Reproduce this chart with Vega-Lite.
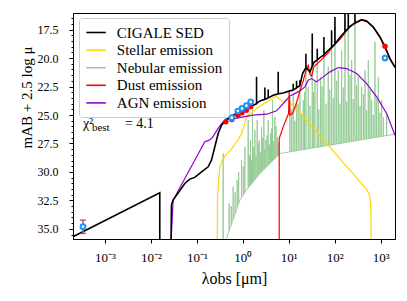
{
  "$schema": "https://vega.github.io/schema/vega-lite/v6.json",
  "width": 322,
  "height": 226,
  "autosize": {"type": "none"},
  "padding": {"left": 73, "top": 13, "right": 12, "bottom": 62},
  "background": "white",
  "config": {
    "view": {"stroke": "black", "strokeWidth": 1},
    "font": "Liberation Serif",
    "axis": {"grid": false, "domainColor": "black", "tickColor": "black", "labelColor": "black", "titleColor": "black", "labelFont": "Liberation Serif", "titleFont": "Liberation Serif", "titleFontWeight": "normal", "labelFontSize": 12, "titleFontSize": 16}
  },
  "datasets": {
    "curves": [
      {"s": "Nebular emission", "w": 0.3728, "m": 38.5},
      {"s": "Nebular emission", "w": 0.3728, "m": 28.38},
      {"s": "Nebular emission", "w": 0.3728, "m": 38.5},
      {"s": "Nebular emission", "w": 0.4122, "m": 38.5},
      {"s": "Nebular emission", "w": 0.4406, "m": 35.83},
      {"s": "Nebular emission", "w": 0.5039, "m": 35.16},
      {"s": "Nebular emission", "w": 0.5039, "m": 32.76},
      {"s": "Nebular emission", "w": 0.5039, "m": 35.16},
      {"s": "Nebular emission", "w": 0.56, "m": 34.65},
      {"s": "Nebular emission", "w": 0.56, "m": 33.0},
      {"s": "Nebular emission", "w": 0.56, "m": 34.65},
      {"s": "Nebular emission", "w": 0.6155, "m": 34.17},
      {"s": "Nebular emission", "w": 0.6155, "m": 31.3},
      {"s": "Nebular emission", "w": 0.6155, "m": 34.17},
      {"s": "Nebular emission", "w": 0.68, "m": 33.65},
      {"s": "Nebular emission", "w": 0.68, "m": 31.8},
      {"s": "Nebular emission", "w": 0.68, "m": 33.65},
      {"s": "Nebular emission", "w": 0.7531, "m": 33.15},
      {"s": "Nebular emission", "w": 0.7531, "m": 30.72},
      {"s": "Nebular emission", "w": 0.7531, "m": 33.15},
      {"s": "Nebular emission", "w": 0.81, "m": 32.75},
      {"s": "Nebular emission", "w": 0.81, "m": 30.0},
      {"s": "Nebular emission", "w": 0.81, "m": 32.75},
      {"s": "Nebular emission", "w": 0.8603, "m": 32.47},
      {"s": "Nebular emission", "w": 0.9354, "m": 32.25},
      {"s": "Nebular emission", "w": 0.9354, "m": 28.96},
      {"s": "Nebular emission", "w": 0.9354, "m": 32.25},
      {"s": "Nebular emission", "w": 1.02, "m": 32.02},
      {"s": "Nebular emission", "w": 1.02, "m": 29.5},
      {"s": "Nebular emission", "w": 1.02, "m": 32.02},
      {"s": "Nebular emission", "w": 1.105, "m": 31.81},
      {"s": "Nebular emission", "w": 1.105, "m": 27.79},
      {"s": "Nebular emission", "w": 1.105, "m": 31.81},
      {"s": "Nebular emission", "w": 1.202, "m": 31.59},
      {"s": "Nebular emission", "w": 1.307, "m": 31.41},
      {"s": "Nebular emission", "w": 1.307, "m": 25.45},
      {"s": "Nebular emission", "w": 1.307, "m": 31.41},
      {"s": "Nebular emission", "w": 1.39, "m": 31.28},
      {"s": "Nebular emission", "w": 1.39, "m": 28.5},
      {"s": "Nebular emission", "w": 1.39, "m": 31.28},
      {"s": "Nebular emission", "w": 1.469, "m": 31.15},
      {"s": "Nebular emission", "w": 1.469, "m": 27.21},
      {"s": "Nebular emission", "w": 1.469, "m": 31.15},
      {"s": "Nebular emission", "w": 1.55, "m": 31.05},
      {"s": "Nebular emission", "w": 1.55, "m": 29.0},
      {"s": "Nebular emission", "w": 1.55, "m": 31.05},
      {"s": "Nebular emission", "w": 1.624, "m": 30.94},
      {"s": "Nebular emission", "w": 1.624, "m": 24.58},
      {"s": "Nebular emission", "w": 1.624, "m": 30.94},
      {"s": "Nebular emission", "w": 1.72, "m": 30.8},
      {"s": "Nebular emission", "w": 1.72, "m": 27.8},
      {"s": "Nebular emission", "w": 1.72, "m": 30.8},
      {"s": "Nebular emission", "w": 1.826, "m": 30.68},
      {"s": "Nebular emission", "w": 1.826, "m": 26.33},
      {"s": "Nebular emission", "w": 1.826, "m": 30.68},
      {"s": "Nebular emission", "w": 1.93, "m": 30.55},
      {"s": "Nebular emission", "w": 1.93, "m": 28.6},
      {"s": "Nebular emission", "w": 1.93, "m": 30.55},
      {"s": "Nebular emission", "w": 2.052, "m": 30.42},
      {"s": "Nebular emission", "w": 2.052, "m": 25.45},
      {"s": "Nebular emission", "w": 2.052, "m": 30.42},
      {"s": "Nebular emission", "w": 2.16, "m": 30.3},
      {"s": "Nebular emission", "w": 2.16, "m": 27.5},
      {"s": "Nebular emission", "w": 2.16, "m": 30.3},
      {"s": "Nebular emission", "w": 2.269, "m": 30.2},
      {"s": "Nebular emission", "w": 2.269, "m": 27.21},
      {"s": "Nebular emission", "w": 2.269, "m": 30.2},
      {"s": "Nebular emission", "w": 2.4, "m": 30.1},
      {"s": "Nebular emission", "w": 2.4, "m": 28.3},
      {"s": "Nebular emission", "w": 2.4, "m": 30.1},
      {"s": "Nebular emission", "w": 2.551, "m": 29.99},
      {"s": "Nebular emission", "w": 2.551, "m": 26.04},
      {"s": "Nebular emission", "w": 2.551, "m": 29.99},
      {"s": "Nebular emission", "w": 2.7, "m": 29.88},
      {"s": "Nebular emission", "w": 2.7, "m": 27.0},
      {"s": "Nebular emission", "w": 2.7, "m": 29.88},
      {"s": "Nebular emission", "w": 2.868, "m": 29.78},
      {"s": "Nebular emission", "w": 2.868, "m": 24.58},
      {"s": "Nebular emission", "w": 2.868, "m": 29.78},
      {"s": "Nebular emission", "w": 3.02, "m": 29.7},
      {"s": "Nebular emission", "w": 3.02, "m": 28.0},
      {"s": "Nebular emission", "w": 3.02, "m": 29.7},
      {"s": "Nebular emission", "w": 3.171, "m": 29.61},
      {"s": "Nebular emission", "w": 3.171, "m": 27.21},
      {"s": "Nebular emission", "w": 3.171, "m": 29.61},
      {"s": "Nebular emission", "w": 3.37, "m": 29.5},
      {"s": "Nebular emission", "w": 3.37, "m": 26.8},
      {"s": "Nebular emission", "w": 3.37, "m": 29.5},
      {"s": "Nebular emission", "w": 3.565, "m": 29.4},
      {"s": "Nebular emission", "w": 3.565, "m": 25.45},
      {"s": "Nebular emission", "w": 3.565, "m": 29.4},
      {"s": "Nebular emission", "w": 3.78, "m": 29.3},
      {"s": "Nebular emission", "w": 3.78, "m": 27.6},
      {"s": "Nebular emission", "w": 3.78, "m": 29.3},
      {"s": "Nebular emission", "w": 4.007, "m": 29.2},
      {"s": "Nebular emission", "w": 4.007, "m": 26.62},
      {"s": "Nebular emission", "w": 4.007, "m": 29.2},
      {"s": "Nebular emission", "w": 4.22, "m": 29.1},
      {"s": "Nebular emission", "w": 4.22, "m": 26.2},
      {"s": "Nebular emission", "w": 4.22, "m": 29.1},
      {"s": "Nebular emission", "w": 4.43, "m": 29.02},
      {"s": "Nebular emission", "w": 4.43, "m": 23.7},
      {"s": "Nebular emission", "w": 4.43, "m": 29.02},
      {"s": "Nebular emission", "w": 4.7, "m": 28.92},
      {"s": "Nebular emission", "w": 4.7, "m": 27.3},
      {"s": "Nebular emission", "w": 4.7, "m": 28.92},
      {"s": "Nebular emission", "w": 4.981, "m": 28.82},
      {"s": "Nebular emission", "w": 4.981, "m": 25.16},
      {"s": "Nebular emission", "w": 4.981, "m": 28.82},
      {"s": "Nebular emission", "w": 5.28, "m": 28.72},
      {"s": "Nebular emission", "w": 5.28, "m": 26.0},
      {"s": "Nebular emission", "w": 5.28, "m": 28.72},
      {"s": "Nebular emission", "w": 5.598, "m": 28.61},
      {"s": "Nebular emission", "w": 5.598, "m": 26.92},
      {"s": "Nebular emission", "w": 5.598, "m": 28.61},
      {"s": "Nebular emission", "w": 5.95, "m": 28.5},
      {"s": "Nebular emission", "w": 5.95, "m": 27.4},
      {"s": "Nebular emission", "w": 5.95, "m": 28.5},
      {"s": "Nebular emission", "w": 6.398, "m": 28.38},
      {"s": "Nebular emission", "w": 10.57, "m": 28.23},
      {"s": "Nebular emission", "w": 10.57, "m": 23.41},
      {"s": "Nebular emission", "w": 10.57, "m": 28.23},
      {"s": "Nebular emission", "w": 11.5, "m": 28.21},
      {"s": "Nebular emission", "w": 11.5, "m": 24.5},
      {"s": "Nebular emission", "w": 11.5, "m": 28.21},
      {"s": "Nebular emission", "w": 12.49, "m": 28.18},
      {"s": "Nebular emission", "w": 12.49, "m": 23.11},
      {"s": "Nebular emission", "w": 12.49, "m": 28.18},
      {"s": "Nebular emission", "w": 13.6, "m": 28.16},
      {"s": "Nebular emission", "w": 13.6, "m": 25.5},
      {"s": "Nebular emission", "w": 13.6, "m": 28.16},
      {"s": "Nebular emission", "w": 14.77, "m": 28.13},
      {"s": "Nebular emission", "w": 14.77, "m": 23.99},
      {"s": "Nebular emission", "w": 14.77, "m": 28.13},
      {"s": "Nebular emission", "w": 16.0, "m": 28.11},
      {"s": "Nebular emission", "w": 16.0, "m": 24.0},
      {"s": "Nebular emission", "w": 16.0, "m": 28.11},
      {"s": "Nebular emission", "w": 17.46, "m": 28.08},
      {"s": "Nebular emission", "w": 17.46, "m": 22.24},
      {"s": "Nebular emission", "w": 17.46, "m": 28.08},
      {"s": "Nebular emission", "w": 19.0, "m": 28.06},
      {"s": "Nebular emission", "w": 19.0, "m": 25.0},
      {"s": "Nebular emission", "w": 19.0, "m": 28.06},
      {"s": "Nebular emission", "w": 20.63, "m": 28.04},
      {"s": "Nebular emission", "w": 20.63, "m": 23.7},
      {"s": "Nebular emission", "w": 20.63, "m": 28.04},
      {"s": "Nebular emission", "w": 22.0, "m": 28.02},
      {"s": "Nebular emission", "w": 22.0, "m": 23.0},
      {"s": "Nebular emission", "w": 22.0, "m": 28.02},
      {"s": "Nebular emission", "w": 23.58, "m": 28.0},
      {"s": "Nebular emission", "w": 23.58, "m": 20.77},
      {"s": "Nebular emission", "w": 23.58, "m": 28.0},
      {"s": "Nebular emission", "w": 26.51, "m": 27.96},
      {"s": "Nebular emission", "w": 26.51, "m": 22.53},
      {"s": "Nebular emission", "w": 26.51, "m": 27.96},
      {"s": "Nebular emission", "w": 29.0, "m": 27.93},
      {"s": "Nebular emission", "w": 29.0, "m": 24.2},
      {"s": "Nebular emission", "w": 29.0, "m": 27.93},
      {"s": "Nebular emission", "w": 32.4, "m": 27.9},
      {"s": "Nebular emission", "w": 32.4, "m": 19.31},
      {"s": "Nebular emission", "w": 32.4, "m": 27.9},
      {"s": "Nebular emission", "w": 34.5, "m": 27.88},
      {"s": "Nebular emission", "w": 34.5, "m": 23.0},
      {"s": "Nebular emission", "w": 34.5, "m": 27.88},
      {"s": "Nebular emission", "w": 37.03, "m": 27.86},
      {"s": "Nebular emission", "w": 37.03, "m": 21.94},
      {"s": "Nebular emission", "w": 37.03, "m": 27.86},
      {"s": "Nebular emission", "w": 41.63, "m": 27.83},
      {"s": "Nebular emission", "w": 41.63, "m": 20.19},
      {"s": "Nebular emission", "w": 41.63, "m": 27.83},
      {"s": "Nebular emission", "w": 45.0, "m": 27.81},
      {"s": "Nebular emission", "w": 45.0, "m": 24.5},
      {"s": "Nebular emission", "w": 45.0, "m": 27.81},
      {"s": "Nebular emission", "w": 49.22, "m": 27.78},
      {"s": "Nebular emission", "w": 49.22, "m": 21.65},
      {"s": "Nebular emission", "w": 49.22, "m": 27.78},
      {"s": "Nebular emission", "w": 53.0, "m": 27.76},
      {"s": "Nebular emission", "w": 53.0, "m": 22.5},
      {"s": "Nebular emission", "w": 53.0, "m": 27.76},
      {"s": "Nebular emission", "w": 58.18, "m": 27.73},
      {"s": "Nebular emission", "w": 58.18, "m": 19.02},
      {"s": "Nebular emission", "w": 58.18, "m": 27.73},
      {"s": "Nebular emission", "w": 65.0, "m": 27.7},
      {"s": "Nebular emission", "w": 65.0, "m": 24.0},
      {"s": "Nebular emission", "w": 65.0, "m": 27.7},
      {"s": "Nebular emission", "w": 72.29, "m": 27.67},
      {"s": "Nebular emission", "w": 72.29, "m": 20.77},
      {"s": "Nebular emission", "w": 72.29, "m": 27.67},
      {"s": "Nebular emission", "w": 78.0, "m": 27.64},
      {"s": "Nebular emission", "w": 78.0, "m": 22.8},
      {"s": "Nebular emission", "w": 78.0, "m": 27.64},
      {"s": "Nebular emission", "w": 85.45, "m": 27.62},
      {"s": "Nebular emission", "w": 85.45, "m": 18.44},
      {"s": "Nebular emission", "w": 85.45, "m": 27.62},
      {"s": "Nebular emission", "w": 93.0, "m": 27.59},
      {"s": "Nebular emission", "w": 93.0, "m": 23.5},
      {"s": "Nebular emission", "w": 93.0, "m": 27.59},
      {"s": "Nebular emission", "w": 101.0, "m": 27.57},
      {"s": "Nebular emission", "w": 101.0, "m": 17.27},
      {"s": "Nebular emission", "w": 101.0, "m": 27.57},
      {"s": "Nebular emission", "w": 110.0, "m": 27.54},
      {"s": "Nebular emission", "w": 110.0, "m": 22.0},
      {"s": "Nebular emission", "w": 110.0, "m": 27.54},
      {"s": "Nebular emission", "w": 119.4, "m": 27.52},
      {"s": "Nebular emission", "w": 119.4, "m": 21.07},
      {"s": "Nebular emission", "w": 119.4, "m": 27.52},
      {"s": "Nebular emission", "w": 130.0, "m": 27.49},
      {"s": "Nebular emission", "w": 130.0, "m": 24.0},
      {"s": "Nebular emission", "w": 130.0, "m": 27.49},
      {"s": "Nebular emission", "w": 141.1, "m": 27.47},
      {"s": "Nebular emission", "w": 141.1, "m": 19.31},
      {"s": "Nebular emission", "w": 141.1, "m": 27.47},
      {"s": "Nebular emission", "w": 153.0, "m": 27.44},
      {"s": "Nebular emission", "w": 153.0, "m": 22.6},
      {"s": "Nebular emission", "w": 153.0, "m": 27.44},
      {"s": "Nebular emission", "w": 166.9, "m": 27.42},
      {"s": "Nebular emission", "w": 166.9, "m": 16.68},
      {"s": "Nebular emission", "w": 166.9, "m": 27.42},
      {"s": "Nebular emission", "w": 182.0, "m": 27.39},
      {"s": "Nebular emission", "w": 182.0, "m": 23.8},
      {"s": "Nebular emission", "w": 182.0, "m": 27.39},
      {"s": "Nebular emission", "w": 197.2, "m": 27.37},
      {"s": "Nebular emission", "w": 197.2, "m": 16.68},
      {"s": "Nebular emission", "w": 197.2, "m": 27.37},
      {"s": "Nebular emission", "w": 214.0, "m": 27.35},
      {"s": "Nebular emission", "w": 214.0, "m": 21.5},
      {"s": "Nebular emission", "w": 214.0, "m": 27.35},
      {"s": "Nebular emission", "w": 233.1, "m": 27.32},
      {"s": "Nebular emission", "w": 233.1, "m": 20.19},
      {"s": "Nebular emission", "w": 233.1, "m": 27.32},
      {"s": "Nebular emission", "w": 253.0, "m": 27.3},
      {"s": "Nebular emission", "w": 253.0, "m": 23.6},
      {"s": "Nebular emission", "w": 253.0, "m": 27.3},
      {"s": "Nebular emission", "w": 275.5, "m": 27.27},
      {"s": "Nebular emission", "w": 275.5, "m": 16.68},
      {"s": "Nebular emission", "w": 275.5, "m": 27.27},
      {"s": "Nebular emission", "w": 300.0, "m": 27.25},
      {"s": "Nebular emission", "w": 300.0, "m": 22.4},
      {"s": "Nebular emission", "w": 300.0, "m": 27.25},
      {"s": "Nebular emission", "w": 325.6, "m": 27.22},
      {"s": "Nebular emission", "w": 325.6, "m": 21.65},
      {"s": "Nebular emission", "w": 325.6, "m": 27.22},
      {"s": "Nebular emission", "w": 355.0, "m": 27.2},
      {"s": "Nebular emission", "w": 355.0, "m": 24.2},
      {"s": "Nebular emission", "w": 355.0, "m": 27.2},
      {"s": "Nebular emission", "w": 384.8, "m": 27.17},
      {"s": "Nebular emission", "w": 384.8, "m": 22.53},
      {"s": "Nebular emission", "w": 384.8, "m": 27.17},
      {"s": "Nebular emission", "w": 420.0, "m": 27.15},
      {"s": "Nebular emission", "w": 420.0, "m": 23.2},
      {"s": "Nebular emission", "w": 420.0, "m": 27.15},
      {"s": "Nebular emission", "w": 455.0, "m": 27.12},
      {"s": "Nebular emission", "w": 455.0, "m": 21.07},
      {"s": "Nebular emission", "w": 455.0, "m": 27.12},
      {"s": "Nebular emission", "w": 495.0, "m": 27.1},
      {"s": "Nebular emission", "w": 495.0, "m": 24.6},
      {"s": "Nebular emission", "w": 495.0, "m": 27.1},
      {"s": "Nebular emission", "w": 537.8, "m": 27.07},
      {"s": "Nebular emission", "w": 537.8, "m": 20.19},
      {"s": "Nebular emission", "w": 537.8, "m": 27.07},
      {"s": "Nebular emission", "w": 585.0, "m": 27.05},
      {"s": "Nebular emission", "w": 585.0, "m": 22.8},
      {"s": "Nebular emission", "w": 585.0, "m": 27.05},
      {"s": "Nebular emission", "w": 635.7, "m": 27.02},
      {"s": "Nebular emission", "w": 635.7, "m": 23.7},
      {"s": "Nebular emission", "w": 635.7, "m": 27.02},
      {"s": "Nebular emission", "w": 690.0, "m": 27.0},
      {"s": "Nebular emission", "w": 690.0, "m": 25.0},
      {"s": "Nebular emission", "w": 690.0, "m": 27.0},
      {"s": "Nebular emission", "w": 751.4, "m": 26.98},
      {"s": "Nebular emission", "w": 751.4, "m": 18.58},
      {"s": "Nebular emission", "w": 751.4, "m": 26.98},
      {"s": "Nebular emission", "w": 815.0, "m": 26.95},
      {"s": "Nebular emission", "w": 815.0, "m": 23.6},
      {"s": "Nebular emission", "w": 815.0, "m": 26.95},
      {"s": "Nebular emission", "w": 888.1, "m": 26.93},
      {"s": "Nebular emission", "w": 888.1, "m": 21.65},
      {"s": "Nebular emission", "w": 888.1, "m": 26.93},
      {"s": "Nebular emission", "w": 965.0, "m": 26.9},
      {"s": "Nebular emission", "w": 965.0, "m": 24.8},
      {"s": "Nebular emission", "w": 965.0, "m": 26.9},
      {"s": "Nebular emission", "w": 1050, "m": 26.88},
      {"s": "Nebular emission", "w": 1050, "m": 23.7},
      {"s": "Nebular emission", "w": 1050, "m": 26.88},
      {"s": "Nebular emission", "w": 1150, "m": 26.85},
      {"s": "Nebular emission", "w": 1150, "m": 25.2},
      {"s": "Nebular emission", "w": 1150, "m": 26.85},
      {"s": "Nebular emission", "w": 1349, "m": 26.8},
      {"s": "Nebular emission", "w": 1349, "m": 24.87},
      {"s": "Nebular emission", "w": 1349, "m": 26.8},
      {"s": "Nebular emission", "w": 2049, "m": 26.68},

      {"s": "Stellar emission", "w": 0.276, "m": 38.5},
      {"s": "Stellar emission", "w": 0.2806, "m": 32.47},
      {"s": "Stellar emission", "w": 0.2904, "m": 31.3},
      {"s": "Stellar emission", "w": 0.3155, "m": 29.55},
      {"s": "Stellar emission", "w": 0.3606, "m": 28.9},
      {"s": "Stellar emission", "w": 0.4406, "m": 28.44},
      {"s": "Stellar emission", "w": 0.5662, "m": 28.0},
      {"s": "Stellar emission", "w": 0.7278, "m": 27.35},
      {"s": "Stellar emission", "w": 0.9354, "m": 26.68},
      {"s": "Stellar emission", "w": 1.202, "m": 25.16},
      {"s": "Stellar emission", "w": 1.986, "m": 24.43},
      {"s": "Stellar emission", "w": 3.279, "m": 23.85},
      {"s": "Stellar emission", "w": 5.414, "m": 23.35},
      {"s": "Stellar emission", "w": 6.398, "m": 23.61},
      {"s": "Stellar emission", "w": 7.564, "m": 23.85},
      {"s": "Stellar emission", "w": 9.245, "m": 23.7},
      {"s": "Stellar emission", "w": 17.46, "m": 24.78},
      {"s": "Stellar emission", "w": 92.91, "m": 28.17},
      {"s": "Stellar emission", "w": 494.7, "m": 31.54},
      {"s": "Stellar emission", "w": 556.0, "m": 31.89},
      {"s": "Stellar emission", "w": 594.4, "m": 32.47},
      {"s": "Stellar emission", "w": 614.6, "m": 33.64},
      {"s": "Stellar emission", "w": 625.1, "m": 38.5},

      {"s": "AGN emission", "w": 0.02698, "m": 38.5},
      {"s": "AGN emission", "w": 0.02793, "m": 35.39},
      {"s": "AGN emission", "w": 0.03034, "m": 32.47},
      {"s": "AGN emission", "w": 0.1486, "m": 27.35},
      {"s": "AGN emission", "w": 0.1847, "m": 27.21},
      {"s": "AGN emission", "w": 0.2183, "m": 26.97},
      {"s": "AGN emission", "w": 0.2904, "m": 26.18},
      {"s": "AGN emission", "w": 0.3733, "m": 25.6},
      {"s": "AGN emission", "w": 0.4791, "m": 25.39},
      {"s": "AGN emission", "w": 0.6155, "m": 25.34},
      {"s": "AGN emission", "w": 1.017, "m": 25.16},
      {"s": "AGN emission", "w": 1.68, "m": 25.01},
      {"s": "AGN emission", "w": 3.279, "m": 24.93},
      {"s": "AGN emission", "w": 5.414, "m": 24.63},
      {"s": "AGN emission", "w": 7.564, "m": 23.99},
      {"s": "AGN emission", "w": 10.57, "m": 23.32},
      {"s": "AGN emission", "w": 17.46, "m": 22.88},
      {"s": "AGN emission", "w": 22.43, "m": 22.53},
      {"s": "AGN emission", "w": 26.51, "m": 21.94},
      {"s": "AGN emission", "w": 31.33, "m": 21.8},
      {"s": "AGN emission", "w": 40.26, "m": 22.09},
      {"s": "AGN emission", "w": 56.26, "m": 21.65},
      {"s": "AGN emission", "w": 78.6, "m": 21.21},
      {"s": "AGN emission", "w": 119.4, "m": 20.83},
      {"s": "AGN emission", "w": 181.4, "m": 20.92},
      {"s": "AGN emission", "w": 299.5, "m": 21.36},
      {"s": "AGN emission", "w": 494.7, "m": 22.24},
      {"s": "AGN emission", "w": 816.9, "m": 23.41},
      {"s": "AGN emission", "w": 1349, "m": 24.87},
      {"s": "AGN emission", "w": 2049, "m": 26.77},

      {"s": "Dust emission", "w": 6.188, "m": 38.5},
      {"s": "Dust emission", "w": 6.188, "m": 27.06},
      {"s": "Dust emission", "w": 7.564, "m": 26.04},
      {"s": "Dust emission", "w": 9.245, "m": 25.16},
      {"s": "Dust emission", "w": 9.884, "m": 24.87},
      {"s": "Dust emission", "w": 10.22, "m": 22.9},
      {"s": "Dust emission", "w": 10.57, "m": 25.01},
      {"s": "Dust emission", "w": 12.08, "m": 24.87},
      {"s": "Dust emission", "w": 13.59, "m": 24.34},
      {"s": "Dust emission", "w": 15.27, "m": 23.7},
      {"s": "Dust emission", "w": 17.46, "m": 22.88},
      {"s": "Dust emission", "w": 20.63, "m": 22.0},
      {"s": "Dust emission", "w": 23.58, "m": 21.13},
      {"s": "Dust emission", "w": 26.51, "m": 20.63},
      {"s": "Dust emission", "w": 28.82, "m": 21.42},
      {"s": "Dust emission", "w": 31.33, "m": 21.59},
      {"s": "Dust emission", "w": 35.23, "m": 20.77},
      {"s": "Dust emission", "w": 40.26, "m": 20.54},
      {"s": "Dust emission", "w": 51.75, "m": 20.13},
      {"s": "Dust emission", "w": 72.29, "m": 19.52},
      {"s": "Dust emission", "w": 92.91, "m": 18.93},
      {"s": "Dust emission", "w": 129.8, "m": 18.35},
      {"s": "Dust emission", "w": 181.4, "m": 17.62},
      {"s": "Dust emission", "w": 214.4, "m": 17.27},
      {"s": "Dust emission", "w": 253.4, "m": 17.03},
      {"s": "Dust emission", "w": 384.8, "m": 16.68},
      {"s": "Dust emission", "w": 494.7, "m": 16.8},
      {"s": "Dust emission", "w": 691.1, "m": 17.32},
      {"s": "Dust emission", "w": 965.4, "m": 18.2},
      {"s": "Dust emission", "w": 1241, "m": 19.08},
      {"s": "Dust emission", "w": 1594, "m": 20.1},
      {"s": "Dust emission", "w": 2049, "m": 20.86},

      {"s": "CIGALE SED", "w": 0.000201, "m": 35.69},
      {"s": "CIGALE SED", "w": 0.01556, "m": 31.83},
      {"s": "CIGALE SED", "w": 0.01556, "m": 38.5},
      {"s": "CIGALE SED", "w": 0.02698, "m": 38.5},
      {"s": "CIGALE SED", "w": 0.02793, "m": 32.91},
      {"s": "CIGALE SED", "w": 0.03034, "m": 32.47},
      {"s": "CIGALE SED", "w": 0.05445, "m": 31.01},
      {"s": "CIGALE SED", "w": 0.07, "m": 30.63},
      {"s": "CIGALE SED", "w": 0.0899, "m": 30.48},
      {"s": "CIGALE SED", "w": 0.1259, "m": 29.99},
      {"s": "CIGALE SED", "w": 0.1758, "m": 29.55},
      {"s": "CIGALE SED", "w": 0.2075, "m": 28.96},
      {"s": "CIGALE SED", "w": 0.2455, "m": 27.79},
      {"s": "CIGALE SED", "w": 0.2904, "m": 26.62},
      {"s": "CIGALE SED", "w": 0.3429, "m": 25.89},
      {"s": "CIGALE SED", "w": 0.4406, "m": 25.39},
      {"s": "CIGALE SED", "w": 0.6155, "m": 25.01},
      {"s": "CIGALE SED", "w": 0.8603, "m": 24.72},
      {"s": "CIGALE SED", "w": 1.202, "m": 24.43},
      {"s": "CIGALE SED", "w": 1.68, "m": 24.14},
      {"s": "CIGALE SED", "w": 1.986, "m": 24.0},
      {"s": "CIGALE SED", "w": 1.986, "m": 21.65},
      {"s": "CIGALE SED", "w": 1.986, "m": 24.0},
      {"s": "CIGALE SED", "w": 2.346, "m": 23.76},
      {"s": "CIGALE SED", "w": 3.015, "m": 23.62},
      {"s": "CIGALE SED", "w": 3.015, "m": 22.59},
      {"s": "CIGALE SED", "w": 3.015, "m": 23.62},
      {"s": "CIGALE SED", "w": 3.565, "m": 23.5},
      {"s": "CIGALE SED", "w": 3.565, "m": 22.76},
      {"s": "CIGALE SED", "w": 3.565, "m": 23.5},
      {"s": "CIGALE SED", "w": 4.58, "m": 23.26},
      {"s": "CIGALE SED", "w": 5.887, "m": 23.14},
      {"s": "CIGALE SED", "w": 5.887, "m": 21.21},
      {"s": "CIGALE SED", "w": 5.887, "m": 23.14},
      {"s": "CIGALE SED", "w": 7.564, "m": 23.06},
      {"s": "CIGALE SED", "w": 10.57, "m": 22.88},
      {"s": "CIGALE SED", "w": 12.49, "m": 22.8},
      {"s": "CIGALE SED", "w": 12.49, "m": 22.25},
      {"s": "CIGALE SED", "w": 12.49, "m": 22.8},
      {"s": "CIGALE SED", "w": 14.77, "m": 22.62},
      {"s": "CIGALE SED", "w": 14.77, "m": 22.0},
      {"s": "CIGALE SED", "w": 14.77, "m": 22.62},
      {"s": "CIGALE SED", "w": 17.46, "m": 22.4},
      {"s": "CIGALE SED", "w": 17.46, "m": 21.94},
      {"s": "CIGALE SED", "w": 17.46, "m": 22.4},
      {"s": "CIGALE SED", "w": 19.95, "m": 21.36},
      {"s": "CIGALE SED", "w": 23.58, "m": 20.85},
      {"s": "CIGALE SED", "w": 23.58, "m": 19.61},
      {"s": "CIGALE SED", "w": 23.58, "m": 20.85},
      {"s": "CIGALE SED", "w": 26.96, "m": 21.07},
      {"s": "CIGALE SED", "w": 28.82, "m": 21.21},
      {"s": "CIGALE SED", "w": 32.4, "m": 20.7},
      {"s": "CIGALE SED", "w": 32.4, "m": 17.85},
      {"s": "CIGALE SED", "w": 32.4, "m": 20.7},
      {"s": "CIGALE SED", "w": 35.83, "m": 20.34},
      {"s": "CIGALE SED", "w": 41.63, "m": 20.17},
      {"s": "CIGALE SED", "w": 41.63, "m": 19.17},
      {"s": "CIGALE SED", "w": 41.63, "m": 20.17},
      {"s": "CIGALE SED", "w": 47.61, "m": 19.96},
      {"s": "CIGALE SED", "w": 58.18, "m": 19.72},
      {"s": "CIGALE SED", "w": 58.18, "m": 18.14},
      {"s": "CIGALE SED", "w": 58.18, "m": 19.72},
      {"s": "CIGALE SED", "w": 72.29, "m": 19.31},
      {"s": "CIGALE SED", "w": 85.45, "m": 19.05},
      {"s": "CIGALE SED", "w": 85.45, "m": 17.56},
      {"s": "CIGALE SED", "w": 85.45, "m": 19.05},
      {"s": "CIGALE SED", "w": 101.0, "m": 18.76},
      {"s": "CIGALE SED", "w": 101.0, "m": 16.39},
      {"s": "CIGALE SED", "w": 101.0, "m": 18.76},
      {"s": "CIGALE SED", "w": 129.8, "m": 18.2},
      {"s": "CIGALE SED", "w": 166.9, "m": 17.68},
      {"s": "CIGALE SED", "w": 166.9, "m": 15.5},
      {"s": "CIGALE SED", "w": 166.9, "m": 17.68},
      {"s": "CIGALE SED", "w": 197.2, "m": 17.38},
      {"s": "CIGALE SED", "w": 197.2, "m": 15.5},
      {"s": "CIGALE SED", "w": 197.2, "m": 17.38},
      {"s": "CIGALE SED", "w": 214.4, "m": 17.21},
      {"s": "CIGALE SED", "w": 275.5, "m": 16.92},
      {"s": "CIGALE SED", "w": 275.5, "m": 15.5},
      {"s": "CIGALE SED", "w": 275.5, "m": 16.92},
      {"s": "CIGALE SED", "w": 384.8, "m": 16.62},
      {"s": "CIGALE SED", "w": 494.7, "m": 16.74},
      {"s": "CIGALE SED", "w": 691.1, "m": 17.27},
      {"s": "CIGALE SED", "w": 965.4, "m": 18.14},
      {"s": "CIGALE SED", "w": 1241, "m": 19.02},
      {"s": "CIGALE SED", "w": 1594, "m": 20.04},
      {"s": "CIGALE SED", "w": 2049, "m": 20.8}
    ],
    "model": [
      {"w": 0.000332, "m": 34.81},
      {"w": 0.4262, "m": 25.6},
      {"w": 0.5757, "m": 25.39},
      {"w": 0.7783, "m": 25.01},
      {"w": 0.959, "m": 24.81},
      {"w": 1.192, "m": 24.58},
      {"w": 1.481, "m": 24.28},
      {"w": 1241, "m": 18.96}
    ],
    "obs": [
      {"w": 0.000332, "m": 34.81, "lo": 34.23, "hi": 35.4},
      {"w": 0.4226, "m": 24.99},
      {"w": 0.5757, "m": 25.23},
      {"w": 0.7783, "m": 24.65},
      {"w": 0.959, "m": 24.42},
      {"w": 1.192, "m": 24.18},
      {"w": 1.481, "m": 23.85},
      {"w": 1241, "m": 19.99, "lo": 19.7, "hi": 20.28}
    ],
    "caps": [
      {"w": 0.000332, "m": 34.23},
      {"w": 0.000332, "m": 35.4}
    ],
    "note": [
      {"w": 0.00033, "m": 26.13}
    ]
  },
  "encoding": {
    "x": {
      "field": "w", "type": "quantitative",
      "scale": {"type": "log", "domain": [0.000201, 2049], "nice": false},
      "axis": {
        "values": [0.001, 0.01, 0.1, 1, 10, 100, 1000],
        "labelExpr": "['10⁻³','10⁻²','10⁻¹','10⁰','10¹','10²','10³'][round(log(datum.value)/LN10)+3]",
        "tickSize": 4, "labelPadding": 18, "labelBaseline": "alphabetic", "labelFontSize": 13,
        "title": "λobs [μm]", "titleX": 161, "titleY": 44, "titleAlign": "center", "titleBaseline": "alphabetic",
        "labelOverlap": false
      }
    },
    "y": {
      "field": "m", "type": "quantitative",
      "scale": {"domain": [16.04, 35.89], "reverse": true, "nice": false, "zero": false},
      "axis": {
        "values": [16.5, 17, 17.5, 18, 18.5, 19, 19.5, 20, 20.5, 21, 21.5, 22, 22.5, 23, 23.5, 24, 24.5, 25, 25.5, 26, 26.5, 27, 27.5, 28, 28.5, 29, 29.5, 30, 30.5, 31, 31.5, 32, 32.5, 33, 33.5, 34, 34.5, 35, 35.5],
        "labelExpr": "abs(datum.value % 2.5) < 0.001 ? format(datum.value, '.1f') : ''",
        "tickSize": {"condition": {"test": "abs(datum.value % 2.5) < 0.001", "value": 4}, "value": 2},
        "labelPadding": 11, "labelOverlap": false, "labelBaseline": "middle",
        "title": "mAB + 2.5 log μ", "titleX": -47, "titleY": 84, "titleAlign": "center", "titleBaseline": "middle", "titleFontSize": 15
      }
    }
  },
  "layer": [
    {
      "data": {"name": "curves"},
      "transform": [{"filter": "datum.s == 'Nebular emission'"}],
      "mark": {"type": "line", "strokeWidth": 0.9, "clip": true},
      "encoding": {
        "color": {"field": "s", "type": "nominal", "title": null,
          "scale": {"domain": ["CIGALE SED", "Stellar emission", "Nebular emission", "Dust emission", "AGN emission"], "range": ["#000000", "#ffd700", "#93cb93", "#ff0000", "#9400d3"]},
          "legend": {"orient": "none", "legendX": 6, "legendY": 5, "symbolType": "M-1.3,0H1.3", "symbolSize": 225, "symbolStrokeWidth": 1.6, "symbolOffset": 2.6, "labelFont": "Liberation Serif", "labelFontSize": 15, "labelOffset": 12.2, "rowPadding": 0.6, "padding": 6, "fillColor": "white", "strokeColor": "#cccccc", "cornerRadius": 3, "labelLimit": 200}},
        "order": {"value": null}
      }
    },
    {
      "data": {"name": "curves"},
      "transform": [{"filter": "datum.s == 'Stellar emission'"}],
      "mark": {"type": "line", "strokeWidth": 1.2, "clip": true},
      "encoding": {
        "color": {"field": "s", "type": "nominal", "title": null,
          "scale": {"domain": ["CIGALE SED", "Stellar emission", "Nebular emission", "Dust emission", "AGN emission"], "range": ["#000000", "#ffd700", "#93cb93", "#ff0000", "#9400d3"]}},
        "order": {"value": null}
      }
    },
    {
      "data": {"name": "curves"},
      "transform": [{"filter": "datum.s == 'AGN emission'"}],
      "mark": {"type": "line", "strokeWidth": 1.2, "clip": true},
      "encoding": {
        "color": {"field": "s", "type": "nominal", "title": null,
          "scale": {"domain": ["CIGALE SED", "Stellar emission", "Nebular emission", "Dust emission", "AGN emission"], "range": ["#000000", "#ffd700", "#93cb93", "#ff0000", "#9400d3"]}},
        "order": {"value": null}
      }
    },
    {
      "data": {"name": "curves"},
      "transform": [{"filter": "datum.s == 'Dust emission'"}],
      "mark": {"type": "line", "strokeWidth": 1.2, "clip": true},
      "encoding": {
        "color": {"field": "s", "type": "nominal", "title": null,
          "scale": {"domain": ["CIGALE SED", "Stellar emission", "Nebular emission", "Dust emission", "AGN emission"], "range": ["#000000", "#ffd700", "#93cb93", "#ff0000", "#9400d3"]}},
        "order": {"value": null}
      }
    },
    {
      "data": {"name": "curves"},
      "transform": [{"filter": "datum.s == 'CIGALE SED'"}],
      "mark": {"type": "line", "strokeWidth": 1.6, "clip": true},
      "encoding": {
        "color": {"field": "s", "type": "nominal", "title": null,
          "scale": {"domain": ["CIGALE SED", "Stellar emission", "Nebular emission", "Dust emission", "AGN emission"], "range": ["#000000", "#ffd700", "#93cb93", "#ff0000", "#9400d3"]}},
        "order": {"value": null}
      }
    },
    {
      "data": {"name": "obs"},
      "transform": [{"filter": "isValid(datum.lo)"}],
      "mark": {"type": "rule", "color": "#1e90ff", "strokeWidth": 1.5},
      "encoding": {"y": {"field": "lo", "type": "quantitative"}, "y2": {"field": "hi"}}
    },
    {
      "data": {"name": "caps"},
      "mark": {"type": "point", "shape": "stroke", "size": 36, "stroke": "#ff0000", "strokeWidth": 1.5, "filled": false},
      "encoding": {}
    },
    {
      "data": {"name": "model"},
      "mark": {"type": "point", "shape": "circle", "filled": true, "color": "#ff0000", "size": 30, "opacity": 1},
      "encoding": {}
    },
    {
      "data": {"name": "obs"},
      "mark": {"type": "point", "shape": "circle", "filled": true, "fill": "white", "stroke": "#1e90ff", "strokeWidth": 2, "size": 22, "opacity": 1},
      "encoding": {}
    },
    {
      "data": {"name": "note"},
      "mark": {"type": "text", "text": "χ²", "align": "left", "baseline": "alphabetic", "fontSize": 14, "font": "Liberation Serif", "color": "black"},
      "encoding": {}
    },
    {
      "data": {"name": "note"},
      "mark": {"type": "text", "text": "best", "align": "left", "baseline": "alphabetic", "fontSize": 11, "font": "Liberation Serif", "dx": 9, "dy": 3, "color": "black"},
      "encoding": {}
    },
    {
      "data": {"name": "note"},
      "mark": {"type": "text", "text": "= 4.1", "align": "left", "baseline": "alphabetic", "fontSize": 14, "font": "Liberation Serif", "dx": 42, "color": "black"},
      "encoding": {}
    }
  ]
}
